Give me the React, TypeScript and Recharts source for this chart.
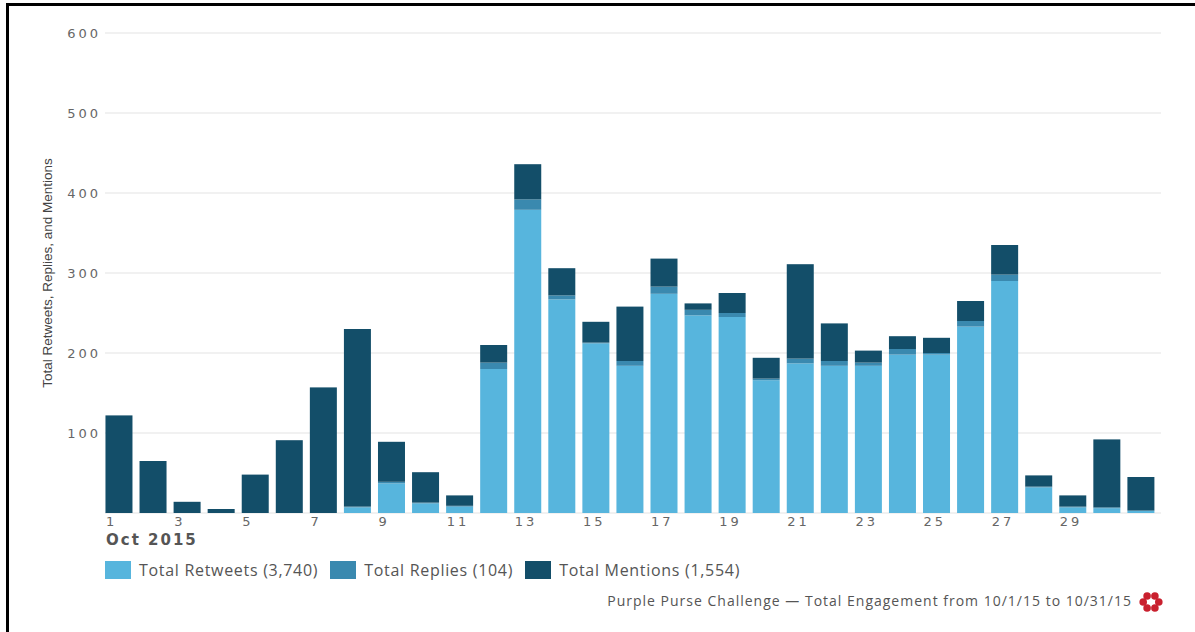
import { Bar, BarChart, CartesianGrid, XAxis, YAxis } from 'recharts'

const days = ['1', '2', '3', '4', '5', '6', '7', '8', '9', '10', '11', '12', '13', '14', '15', '16', '17', '18', '19', '20', '21', '22', '23', '24', '25', '26', '27', '28', '29', '30', '31']
const retweets = [0, 0, 0, 0, 0, 0, 0, 7, 37, 12, 8, 180, 379, 267, 212, 184, 274, 247, 245, 166, 187, 184, 184, 198, 198, 233, 290, 32, 7, 6, 3]
const replies = [0, 0, 0, 0, 0, 0, 0, 1, 2, 1, 1, 8, 13, 5, 1, 6, 9, 7, 5, 2, 6, 6, 4, 7, 2, 7, 8, 1, 1, 1, 0]
const mentions = [122, 65, 14, 5, 48, 91, 157, 222, 50, 38, 13, 22, 44, 34, 26, 68, 35, 8, 25, 26, 118, 47, 15, 16, 19, 25, 37, 14, 14, 85, 42]
const xTickLabels = ['1', '3', '5', '7', '9', '11', '13', '15', '17', '19', '21', '23', '25', '27', '29']
const yTicks = [0, 100, 200, 300, 400, 500, 600]

const legendItems = [
  { label: 'Total Retweets (3,740)', color: '#57b5dd' },
  { label: 'Total Replies (104)', color: '#3a89af' },
  { label: 'Total Mentions (1,554)', color: '#134e69' },
]

const W = 1195
const H = 632
const PLOT_LEFT = 105
const PLOT_RIGHT = 1161
const BAR = 27
const SLOT = (PLOT_RIGHT - PLOT_LEFT) / days.length
const SHIFT = (SLOT - BAR) / 2

const data = days.map((day, i) => ({
  day,
  retweets: retweets[i],
  replies: replies[i],
  mentions: mentions[i],
}))

const tickFont = { fontFamily: 'DejaVu Sans', fontSize: 13, letterSpacing: 3, fill: '#666' }

// bars sit at the start of each day slot, not centred
function LeftBar(props: any) {
  const { x, y, width, height, fill } = props
  if (!height || height <= 0) return <g />
  return <rect x={x - SHIFT} y={y} width={width} height={height} fill={fill} />
}

function DayTick(props: any) {
  const { x, y, payload } = props
  if (!xTickLabels.includes(payload.value)) return <g />
  return (
    <text x={x - SLOT / 2 + 1} y={y} dy={13} textAnchor="start" style={tickFont}>
      {payload.value}
    </text>
  )
}

function ValueTick(props: any) {
  const { x, y, payload } = props
  if (payload.value === 0) return <g />
  return (
    <text x={x + 4} y={y} dy={5} textAnchor="end" style={tickFont}>
      {payload.value}
    </text>
  )
}

function Flower() {
  const dots = [0, 60, 120, 180, 240, 300].map((a) => {
    const r = (a * Math.PI) / 180
    return { cx: 12 + 7.8 * Math.cos(r), cy: 10 - 7 * Math.sin(r) }
  })
  return (
    <svg width={24} height={20} style={{ position: 'absolute', left: 1139, top: 592 }}>
      {dots.map((d, i) => (
        <circle key={i} cx={d.cx} cy={d.cy} r={3.8} fill="#c9202e" />
      ))}
    </svg>
  )
}

export default function App() {
  return (
    <div style={{ position: 'fixed', left: 0, top: 0, width: W, height: H, background: '#fff', overflow: 'hidden' }}>
      <div
        style={{
          position: 'absolute',
          left: 6,
          top: 3,
          width: W,
          height: H,
          borderTop: '3px solid #000',
          borderLeft: '3px solid #000',
        }}
      />
      <BarChart
        width={W}
        height={H}
        data={data}
        margin={{ top: 33, right: W - PLOT_RIGHT, bottom: 89, left: 0 }}
        barSize={BAR}
      >
        <CartesianGrid vertical={false} stroke="#e3e3e3" />
        <XAxis
          dataKey="day"
          height={30}
          interval={0}
          tickLine={false}
          axisLine={false}
          tickSize={0}
          tickMargin={0}
          tick={<DayTick />}
        />
        <YAxis
          width={PLOT_LEFT}
          domain={[0, 600]}
          ticks={yTicks}
          tickLine={false}
          axisLine={false}
          tick={<ValueTick />}
        />
        <Bar dataKey="retweets" stackId="a" fill="#57b5dd" shape={<LeftBar />} isAnimationActive={false} />
        <Bar dataKey="replies" stackId="a" fill="#3a89af" shape={<LeftBar />} isAnimationActive={false} />
        <Bar dataKey="mentions" stackId="a" fill="#134e69" shape={<LeftBar />} isAnimationActive={false} />
      </BarChart>

      <div
        style={{
          position: 'absolute',
          left: 47,
          top: 273,
          transform: 'translate(-50%, -50%) rotate(-90deg)',
          whiteSpace: 'nowrap',
          fontFamily: '"Liberation Sans Narrow", "Liberation Sans", sans-serif',
          fontSize: 13.5,
          color: '#444',
        }}
      >
        Total Retweets, Replies, and Mentions
      </div>

      <div
        style={{
          position: 'absolute',
          left: 106,
          top: 531,
          fontFamily: 'DejaVu Sans',
          fontWeight: 'bold',
          fontSize: 15,
          letterSpacing: 2,
          color: '#555',
        }}
      >
        Oct 2015
      </div>

      <div style={{ position: 'absolute', left: 105, top: 559, display: 'flex', alignItems: 'center' }}>
        {legendItems.map((item) => (
          <div key={item.label} style={{ display: 'flex', alignItems: 'center', marginRight: 12 }}>
            <div style={{ width: 26, height: 18, background: item.color, marginRight: 8 }} />
            <span style={{ fontFamily: '"Open Sans"', fontSize: 16, color: '#555', letterSpacing: 0.7 }}>{item.label}</span>
          </div>
        ))}
      </div>

      <div
        style={{
          position: 'absolute',
          right: W - 1132,
          top: 591,
          fontFamily: '"Open Sans"',
          fontSize: 14,
          letterSpacing: 1,
          color: '#555',
          whiteSpace: 'nowrap',
        }}
      >
        Purple Purse Challenge — Total Engagement from 10/1/15 to 10/31/15
      </div>
      <Flower />
    </div>
  )
}
